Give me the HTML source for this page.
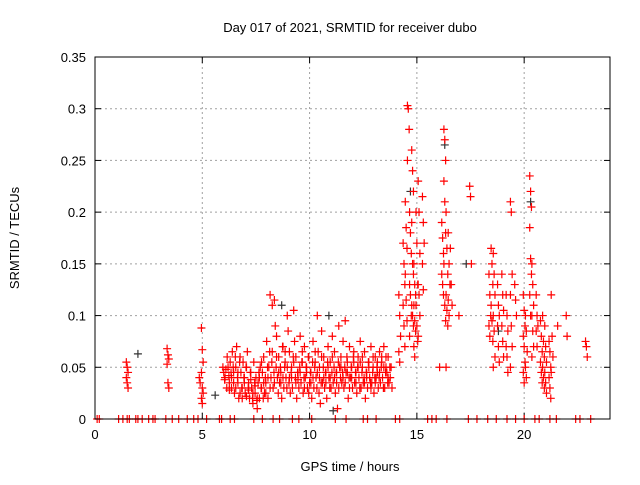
<!DOCTYPE html>
<html><head><meta charset="utf-8"><style>
body{margin:0;background:#fff}
svg text{font-family:"Liberation Sans",sans-serif;font-size:13px;fill:#000}
</style></head><body>
<svg id="chart" width="640" height="480" xmlns="http://www.w3.org/2000/svg">
<rect width="640" height="480" fill="#fff"/>
<text x="350" y="32" text-anchor="middle">Day 017 of 2021, SRMTID for receiver dubo</text>
<text x="350" y="471" text-anchor="middle">GPS time / hours</text>
<text transform="translate(19,238) rotate(-90)" text-anchor="middle">SRMTID / TECUs</text>
<g id="grid"></g><g id="ticks"></g><g id="marks"></g>
<rect x="95" y="57" width="515" height="362" fill="none" stroke="#000" stroke-width="1"/>
</svg>
<script>
const xTicks=[0,5,10,15,20];
const yTicks=[0,0.05,0.1,0.15,0.2,0.25,0.3,0.35];
const yTickLabels=["0","0.05","0.1","0.15","0.2","0.25","0.3","0.35"];
const groupHours=[1.5,3.4,4.9,5.0,6.0,6.1,6.2,6.3,6.4,6.5,6.6,6.7,6.8,6.9,7.0,7.1,7.2,7.3,7.4,7.5,7.6,7.7,7.8,7.9,8.0,8.1,8.2,8.3,8.4,8.5,8.6,8.7,8.8,8.9,9.0,9.1,9.2,9.3,9.4,9.5,9.6,9.7,9.8,9.9,10.0,10.1,10.2,10.3,10.4,10.5,10.6,10.7,10.8,10.9,11.0,11.1,11.2,11.3,11.4,11.5,11.6,11.7,11.8,11.9,12.0,12.1,12.2,12.3,12.4,12.5,12.6,12.7,12.8,12.9,13.0,13.1,13.2,13.3,13.4,13.5,13.6,13.7,13.8,14.2,14.4,14.5,14.6,14.7,14.8,14.9,15.0,15.1,15.3,16.1,16.2,16.3,16.4,16.5,16.6,17.0,17.5,18.4,18.5,18.6,18.8,19.0,19.2,19.4,19.6,20.0,20.1,20.3,20.4,20.6,20.8,20.9,21.0,21.2,21.3,21.6,22.0,22.9];
const groupValues=[[.055,.05,.045,.04,.035,.03],[.068,.062,.058,.053,.035,.03],[.04,.035],[.088,.067,.055,.045,.03,.025,.02,.015],[.05,.045,.038],[.04,.048,.03],[.06,.05,.042],[.035,.055,.045,.028],[.03,.065,.05,.04],[.045,.025,.06,.035],[.05,.07,.04,.03],[.035,.02,.055,.045],[.06,.045,.03,.025],[.03,.055,.04,.02],[.04,.025,.05,.035],[.05,.065,.03,.022],[.035,.02,.045,.028],[.045,.03,.02,.038],[.015,.055,.035,.025],[.025,.04,.018,.032],[.01,.035,.045,.02],[.02,.05,.03,.04],[.03,.045,.02,.055],[.06,.025,.04,.035],[.035,.075,.05,.025],[.02,.05,.065,.04],[.12,.04,.055,.03],[.065,.03,.045,.11],[.115,.09,.05,.035],[.08,.04,.025,.06],[.06,.035,.05,.045],[.045,.02,.07,.035],[.07,.03,.05,.04],[.055,.04,.03,.065],[.1,.085,.035,.05],[.065,.025,.045,.04],[.05,.03,.06,.04],[.105,.075,.04,.055],[.06,.02,.045,.035],[.045,.03,.05,.038],[.08,.035,.055,.045],[.055,.025,.04,.065],[.07,.04,.05,.03],[.05,.03,.06,.045],[.06,.035,.045,.025],[.045,.02,.055,.035],[.075,.03,.05,.04],[.055,.04,.03,.065],[.1,.065,.025,.045],[.05,.015,.035,.04],[.085,.035,.05,.06],[.06,.03,.045,.04],[.045,.02,.055,.035],[.07,.04,.03,.05],[.055,.03,.045,.04],[.08,.035,.05,.06],[.065,.025,.045,.04],[.045,.01,.055,.035],[.09,.05,.04,.03],[.06,.035,.045,.05],[.075,.03,.05,.04],[.095,.045,.06,.035],[.055,.02,.04,.045],[.07,.04,.05,.03],[.05,.03,.06,.04],[.065,.035,.045,.055],[.045,.025,.05,.035],[.06,.04,.03,.05],[.075,.03,.045,.055],[.05,.035,.04,.06],[.065,.02,.045,.035],[.045,.03,.055,.04],[.055,.04,.035,.05],[.07,.035,.045,.03],[.05,.025,.04,.06],[.06,.04,.05,.035],[.045,.03,.04,.055],[.065,.035,.05,.045],[.055,.04,.03,.06],[.07,.03,.045,.05],[.05,.045,.035,.06],[.06,.035,.05,.04],[.04,.05,.03],[.12,.1,.08,.065,.055],[.17,.15,.13,.11,.09,.07],[.21,.185,.165,.14,.115,.095],[.303,.3,.28,.25],[.2,.18,.16,.13,.12,.1,.08],[.26,.24,.22,.19,.15,.14,.11,.1,.09],[.15,.13,.12,.11,.095,.085,.07,.06],[.2,.17,.13,.11,.09,.075],[.23,.2,.16,.13,.12,.1,.08],[.215,.19,.17,.15,.125],[.05],[.19,.175,.16,.14,.13,.12],[.28,.27,.25,.23,.21,.18,.15,.11,.095],[.2,.165,.14,.12,.105,.09,.05],[.18,.15,.13,.115,.1],[.165,.13,.11],[.1],[.225,.215,.15],[.14,.12,.1,.09,.08],[.165,.15,.13,.11,.095,.075],[.16,.14,.12,.1,.085,.06,.05],[.13,.11,.1,.09,.07,.055],[.14,.12,.105,.09,.075,.06],[.12,.1,.085,.07,.06,.045],[.21,.2,.14,.12,.09,.07,.05],[.13,.115,.1],[.12,.105,.09,.08,.07,.055,.045,.035],[.1,.085,.065,.05,.04],[.235,.22,.205,.185,.155,.14,.12,.1],[.15,.13,.11,.1,.085,.07,.06],[.12,.1,.09,.085,.07],[.095,.08,.065,.055,.045,.035],[.1,.075,.06,.05,.04,.03],[.09,.07,.055,.045,.035,.025],[.075,.065,.05,.04,.03,.02],[.12,.08,.06,.045],[.09],[.1,.08],[.075,.07,.06]];
const zeroHours=[0.1,0.2,1.1,1.3,1.5,1.6,1.9,2.0,2.2,2.5,2.7,2.8,3.3,3.6,3.9,4.3,4.6,4.8,5.2,5.8,5.9,6.3,6.5,7.4,7.8,8.3,8.6,9.2,9.5,10.1,11.2,11.7,12.5,12.7,13.1,14.0,14.2,15.5,15.7,15.9,16.4,17.4,17.8,18.3,18.7,19.2,19.6,20.0,20.5,20.7,21.2,21.5,22.4,22.6,23.1];
const blackHours=[2.0,5.6,14.7,16.3,17.3,11.1,8.7,18.8,20.3,10.9];
const blackValues=[.063,.023,.22,.265,.15,.008,.11,.085,.21,.1];
const NS="http://www.w3.org/2000/svg";
const X=h=>95+h/24*515, Y=v=>419-v/0.35*362;
function mk(t,a,p){const e=document.createElementNS(NS,t);for(const k in a)e.setAttribute(k,a[k]);p.appendChild(e);return e;}
const grid=document.getElementById('grid'),ticks=document.getElementById('ticks'),marks=document.getElementById('marks');
xTicks.forEach(t=>{const x=X(t);
 if(t>0){const g=mk('line',{x1:x,y1:57,x2:x,y2:419,stroke:'#a0a0a0','stroke-dasharray':'2,3'},grid);
 
 }
 mk('line',{x1:x,y1:419,x2:x,y2:413,stroke:'#000'},ticks);mk('line',{x1:x,y1:57,x2:x,y2:63,stroke:'#000'},ticks);
 const l=mk('text',{x:x,y:439,'text-anchor':'middle'},ticks);l.textContent=t;
 
 });
yTicks.forEach((t,i)=>{const y=Y(t);
 if(t>0&&t<0.35){const g=mk('line',{x1:95,y1:y,x2:610,y2:y,stroke:'#a0a0a0','stroke-dasharray':'2,3'},grid);
 
 }
 mk('line',{x1:95,y1:y,x2:101,y2:y,stroke:'#000'},ticks);mk('line',{x1:610,y1:y,x2:604,y2:y,stroke:'#000'},ticks);
 const l=mk('text',{x:86,y:y+5,'text-anchor':'end'},ticks);l.textContent=yTickLabels[i];
 
 });
function plus(h,v,c){const x=X(h),y=Y(v);
 const p=mk('path',{d:`M${x-4},${y}H${x+4}M${x},${y-4}V${y+4}`,stroke:c,'stroke-width':1.2,fill:'none'},marks);
 
 }
blackHours.forEach((h,i)=>plus(h,blackValues[i],'#333'));
groupHours.forEach((h,i)=>groupValues[i].forEach((v,j)=>plus(h+((j%3)-1)*0.04,v,'#f00')));
zeroHours.forEach(h=>plus(h,0,'#f00'));
</script>
</body></html>
